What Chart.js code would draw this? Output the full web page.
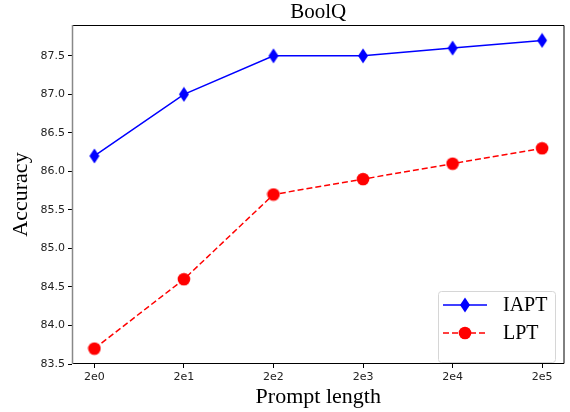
<!DOCTYPE html>
<html>
<head>
<meta charset="utf-8">
<script src="https://cdn.jsdelivr.net/npm/chart.js@4/dist/chart.umd.min.js"></script>
<style>
  html, body { margin: 0; padding: 0; background: #fff; }
  #wrap { width: 570px; height: 412px; }
</style>
</head>
<body>
<div id="wrap"><canvas id="c" width="570" height="412"></canvas></div>
<script>
// data
const lengths = ['2e0', '2e1', '2e2', '2e3', '2e4', '2e5'];
const iapt = [86.2, 87.0, 87.5, 87.5, 87.6, 87.7];
const lpt = [83.7, 84.6, 85.7, 85.9, 86.1, 86.3];
const yTicks = [83.5, 84.0, 84.5, 85.0, 85.5, 86.0, 86.5, 87.0, 87.5];
const seriesNames = ['IAPT', 'LPT'];

function thinDiamond(color) {
  const c = document.createElement('canvas');
  c.width = 12; c.height = 16;
  const g = c.getContext('2d');
  g.fillStyle = color;
  g.beginPath();
  g.moveTo(6, 0.5); g.lineTo(11, 8); g.lineTo(6, 15.5); g.lineTo(1, 8);
  g.closePath(); g.fill();
  return c;
}

function dot(color) {
  const c = document.createElement('canvas');
  c.width = 14; c.height = 14;
  const g = c.getContext('2d');
  g.fillStyle = color;
  g.beginPath(); g.arc(7, 7, 6.3, 0, Math.PI * 2); g.fill();
  return c;
}

const toPoints = arr => arr.map((v, i) => ({ x: i, y: v }));
const serif = "'Liberation Serif', 'Times New Roman', serif";
const tickFont = { family: "'DejaVu Sans', sans-serif", size: 11 };

const frame = {
  id: 'frame',
  afterDraw(chart) {
    const { ctx, chartArea: a } = chart;
    ctx.save();
    ctx.lineWidth = 1;
    ctx.strokeStyle = '#000';
    ctx.beginPath();
    ctx.moveTo(a.left, a.top + 0.5); ctx.lineTo(a.right - 0.5, a.top + 0.5);
    ctx.lineTo(a.right - 0.5, a.bottom - 0.5); ctx.lineTo(a.left, a.bottom - 0.5);
    ctx.stroke();
    ctx.strokeStyle = '#888';
    ctx.lineWidth = 1.5;
    ctx.beginPath();
    ctx.moveTo(a.left + 0.5, a.top); ctx.lineTo(a.left + 0.5, a.bottom);
    ctx.stroke();

    // title
    ctx.fillStyle = '#000';
    ctx.font = '21px ' + serif;
    ctx.textAlign = 'center';
    ctx.textBaseline = 'alphabetic';
    ctx.fillText('BoolQ', (a.left + a.right) / 2, a.top - 7);

    // legend, matplotlib style
    const x0 = 438, y0 = 291, w = 117, h = 71;
    ctx.fillStyle = 'rgba(255,255,255,0.85)';
    ctx.strokeStyle = '#d6d6d6';
    ctx.lineWidth = 1;
    ctx.beginPath();
    ctx.roundRect(x0 + 0.5, y0 + 0.5, w, h, 3);
    ctx.fill(); ctx.stroke();
    chart.data.datasets.forEach((ds, i) => {
      const y = y0 + 14 + i * 28;
      ctx.strokeStyle = ds.borderColor;
      ctx.lineWidth = 1.5;
      ctx.setLineDash(ds.borderDash || []);
      ctx.beginPath(); ctx.moveTo(443, y); ctx.lineTo(487, y); ctx.stroke();
      ctx.setLineDash([]);
      const img = ds.pointStyle;
      ctx.drawImage(img, 465 - img.width / 2, y - img.height / 2);
      ctx.fillStyle = '#000';
      ctx.font = '20px ' + serif;
      ctx.textAlign = 'left';
      ctx.textBaseline = 'middle';
      ctx.fillText(ds.label, 503, y + 1);
    });
    ctx.restore();
  }
};

new Chart(document.getElementById('c'), {
  type: 'line',
  data: {
    datasets: [
      {
        label: seriesNames[0],
        data: toPoints(iapt),
        borderColor: '#0000ff',
        borderWidth: 1.5,
        pointStyle: thinDiamond('#0000ff'),
        tension: 0
      },
      {
        label: seriesNames[1],
        data: toPoints(lpt),
        borderColor: '#ff0000',
        borderWidth: 1.5,
        borderDash: [6, 3],
        pointStyle: dot('#ff0000'),
        tension: 0
      }
    ]
  },
  options: {
    responsive: false,
    devicePixelRatio: 1,
    animation: false,
    layout: { padding: { top: 25, right: 4, left: 0, bottom: 0 } },
    plugins: { legend: { display: false }, tooltip: { enabled: false } },
    scales: {
      x: {
        type: 'linear',
        min: -0.25, max: 5.25,
        afterBuildTicks: s => { s.ticks = lengths.map((_, i) => ({ value: i })); },
        afterFit: s => { s.height = 48; },
        ticks: { color: '#222', font: tickFont, padding: 3, maxRotation: 0,
          callback: v => lengths[v] },
        grid: { drawOnChartArea: false, tickLength: 4, color: '#000' },
        border: { display: false },
        title: { display: true, text: 'Prompt length', color: '#000',
          font: { family: serif, size: 22 }, padding: { top: 0, bottom: 2 } }
      },
      y: {
        min: 83.5, max: 87.9,
        afterBuildTicks: s => { s.ticks = yTicks.map(v => ({ value: v })); },
        afterFit: s => { s.width = 72; },
        ticks: { color: '#222', font: tickFont, padding: 3,
          callback: v => v.toFixed(1) },
        grid: { drawOnChartArea: false, tickLength: 4, color: '#000' },
        border: { display: false },
        title: { display: true, text: 'Accuracy', color: '#000',
          font: { family: serif, size: 22 }, padding: { top: 8, bottom: 0 } }
      }
    }
  },
  plugins: [frame]
});
</script>
</body>
</html>
